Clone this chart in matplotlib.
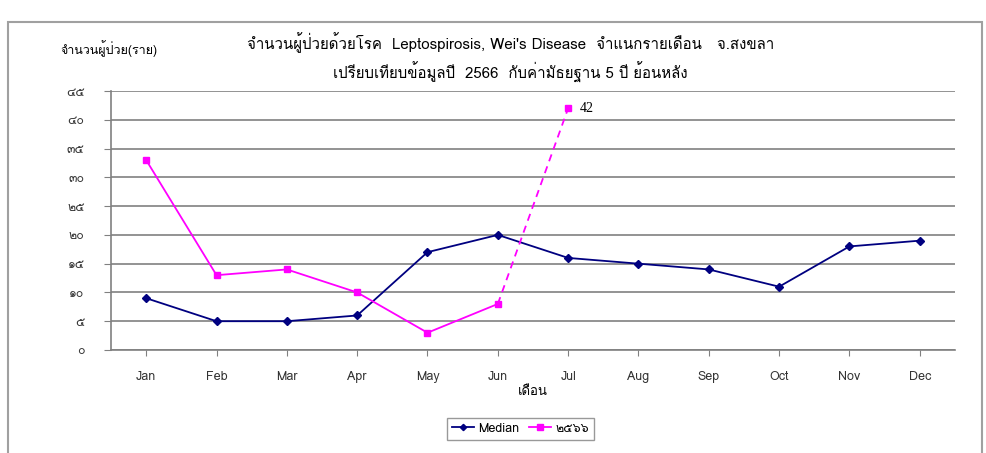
import matplotlib
matplotlib.use("Agg")
import matplotlib.pyplot as plt
from matplotlib import font_manager as fm
from matplotlib.ft2font import FT2Font
from matplotlib.patches import Rectangle

# find a font that has Thai glyphs
thai_font = None
for f in fm.fontManager.ttflist:
    try:
        ft = FT2Font(f.fname)
        if ft.get_char_index(0x0E08):
            thai_font = f.name
            break
    except Exception:
        pass
fams = ([thai_font] if thai_font else []) + ["DejaVu Sans"]
plt.rcParams['font.family'] = fams

months = ["Jan", "Feb", "Mar", "Apr", "May", "Jun", "Jul", "Aug", "Sep", "Oct", "Nov", "Dec"]
median = [9, 5, 5, 6, 17, 20, 16, 15, 14, 11, 18, 19]
y2566 = [33, 13, 14, 10, 3, 8]
jul_2566 = 42
yticks = [0, 5, 10, 15, 20, 25, 30, 35, 40, 45]
ytick_labels = ["๐", "๕", "๑๐", "๑๕", "๒๐", "๒๕", "๓๐", "๓๕", "๔๐", "๔๕"]

fig = plt.figure(figsize=(9.87, 4.53), dpi=100)
ax = fig.add_axes([0.1125, 0.2274, 0.855, 0.5716])

x = list(range(len(months)))
ax.plot(x, median, color="#000080", marker="D", markersize=4, lw=1.3, label="Median", zorder=3)
ax.plot(x[:len(y2566)], y2566, color="#FF00FF", marker="s", markersize=5, lw=1.3, label="๒๕๖๖", zorder=3)
ax.plot([5, 6], [y2566[-1], jul_2566], color="#FF00FF", lw=1.3, ls=(0, (4, 3)), zorder=3)
ax.plot([6], [jul_2566], color="#FF00FF", marker="s", markersize=5, ls="none", zorder=3)
ax.text(6.16, jul_2566, str(jul_2566), fontsize=10, family="Liberation Serif", va="center")

ax.set_xlim(-0.5, 11.5)
ax.set_ylim(0, 45)
ax.set_yticks(yticks)
ax.set_yticklabels(ytick_labels, fontsize=9, color="#333333")
ax.set_xticks(x)
ax.set_xticklabels(months, fontsize=9, color="#333333")
ax.tick_params(axis="x", length=4, color="#808080", pad=11)
ax.tick_params(axis="y", length=5, color="#808080", pad=14)
ax.grid(axis="y", color="#808080", lw=1.2)
ax.set_axisbelow(True)
for s in ["top", "right"]:
    ax.spines[s].set_visible(False)
for s in ["left", "bottom"]:
    ax.spines[s].set_color("#808080")
    ax.spines[s].set_linewidth(1.2)
ax.set_xlabel("เดือน", fontsize=9.5, labelpad=2)

fig.text(0.517, 0.907, "จำนวนผู้ป่วยด้วยโรค  Leptospirosis, Wei's Disease  จำแนกรายเดือน   จ.สงขลา",
         ha="center", va="center", fontsize=10.8)
fig.text(0.517, 0.84, "เปรียบเทียบข้อมูลปี  2566  กับค่ามัธยฐาน 5 ปี ย้อนหลัง",
         ha="center", va="center", fontsize=10.8)
fig.text(0.061, 0.893, "จำนวนผู้ป่วย(ราย)", ha="left", va="center", fontsize=9)

leg = fig.legend(loc="center", bbox_to_anchor=(0.527, 0.054), ncol=2, fontsize=9,
                 frameon=True, fancybox=False, edgecolor="#808080", handlelength=1.8,
                 handletextpad=0.3, markerscale=0.8,
                 columnspacing=0.8, borderpad=0.4)
leg.get_frame().set_linewidth(1.0)

fig.patches.append(Rectangle((0.008, -0.1), 0.987, 1.051, transform=fig.transFigure,
                             fill=False, edgecolor="#A0A0A0", lw=1.5))

fig.savefig("out.png", dpi=100)
